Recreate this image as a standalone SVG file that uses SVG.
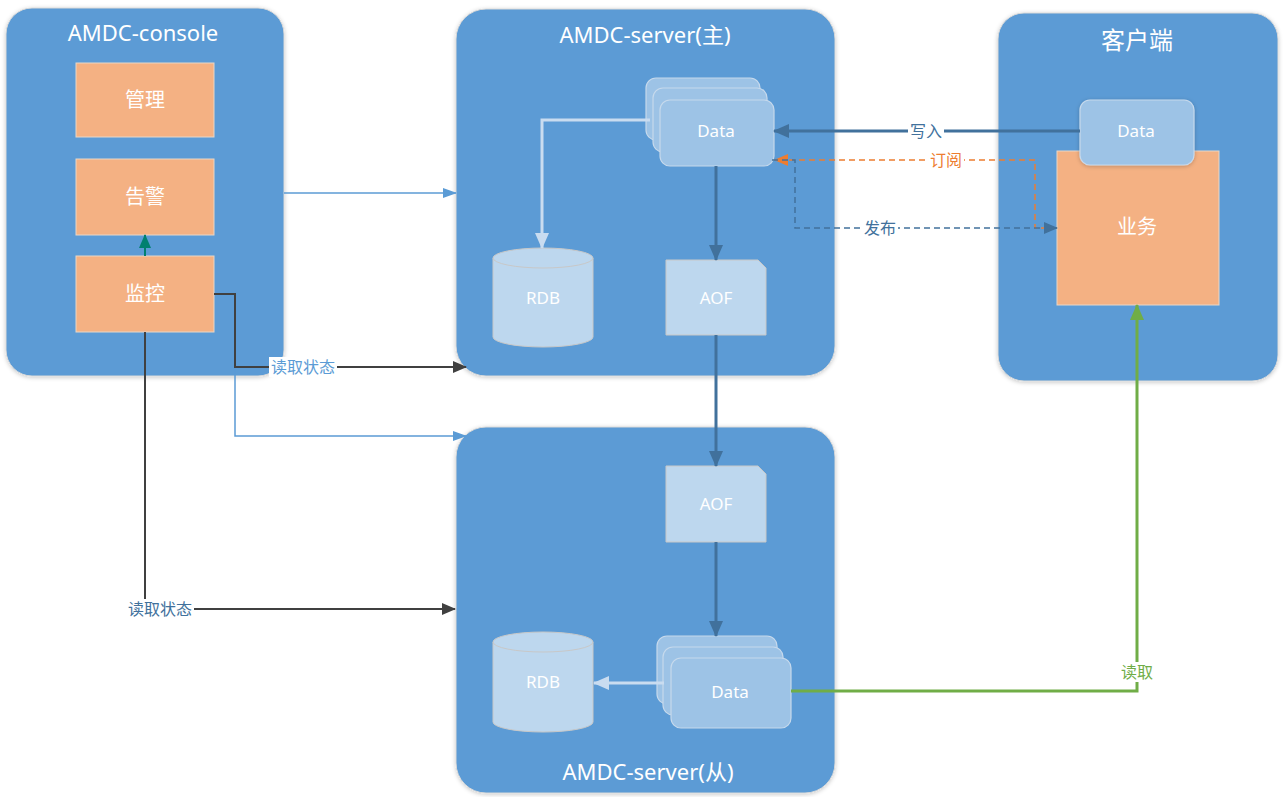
<svg xmlns="http://www.w3.org/2000/svg" width="1284" height="797" viewBox="0 0 1284 797">
  <defs>
    <filter id="shadow" x="-10%" y="-10%" width="120%" height="120%">
      <feDropShadow dx="0" dy="1" stdDeviation="2" flood-color="#000" flood-opacity="0.22"/>
    </filter>
    <marker id="ah-dark" markerUnits="userSpaceOnUse" viewBox="0 0 16 14" refX="15" refY="7" markerWidth="16" markerHeight="14" orient="auto">
      <path d="M0,0 L16,7 L0,14 Z" fill="#41719c"/>
    </marker>
    <marker id="ah-light" markerUnits="userSpaceOnUse" viewBox="0 0 16 14" refX="15" refY="7" markerWidth="16" markerHeight="14" orient="auto">
      <path d="M0,0 L16,7 L0,14 Z" fill="#c9dcf0"/>
    </marker>
    <marker id="ah-orange" markerUnits="userSpaceOnUse" viewBox="0 0 14 12" refX="13" refY="6" markerWidth="14" markerHeight="12" orient="auto">
      <path d="M0,0 L14,6 L0,12 Z" fill="#ed7d31"/>
    </marker>
    <marker id="ah-pub" markerUnits="userSpaceOnUse" viewBox="0 0 14 12" refX="13" refY="6" markerWidth="14" markerHeight="12" orient="auto">
      <path d="M0,0 L14,6 L0,12 Z" fill="#41719c"/>
    </marker>
    <marker id="ah-blue" markerUnits="userSpaceOnUse" viewBox="0 0 14 10" refX="13" refY="5" markerWidth="14" markerHeight="10" orient="auto">
      <path d="M0,0 L14,5 L0,10 Z" fill="#5b9bd5"/>
    </marker>
    <marker id="ah-black" markerUnits="userSpaceOnUse" viewBox="0 0 14 12" refX="13" refY="6" markerWidth="14" markerHeight="12" orient="auto">
      <path d="M0,0 L14,6 L0,12 Z" fill="#404040"/>
    </marker>
    <marker id="ah-green" markerUnits="userSpaceOnUse" viewBox="0 0 16 14" refX="15" refY="7" markerWidth="16" markerHeight="14" orient="auto">
      <path d="M0,0 L16,7 L0,14 Z" fill="#70ad47"/>
    </marker>
    <marker id="ah-teal" markerUnits="userSpaceOnUse" viewBox="0 0 14 12" refX="13" refY="6" markerWidth="14" markerHeight="12" orient="auto">
      <path d="M0,0 L14,6 L0,12 Z" fill="#00806f"/>
    </marker>
  </defs>
  <style>
    text { font-family: "Noto Sans", "Open Sans", "Noto Sans CJK SC", sans-serif; }
    .container { fill: #5b9bd5; stroke: #d9d9d9; stroke-width: 1; filter: url(#shadow); }
    .title { fill: #ffffff; font-size: 22px; text-anchor: middle; }
    .orange { fill: #f4b183; stroke: #e8d7c8; stroke-width: 1; }
    .otext { fill: #ffffff; font-size: 20px; text-anchor: middle; }
    .card { fill: #9dc3e6; stroke: #c6d9ec; stroke-width: 1.2; }
    .store { fill: #bdd7ee; stroke: #c8c8c8; stroke-width: 1; }
    .ctext { fill: #ffffff; font-size: 17px; text-anchor: middle; }
    .lbl { font-size: 16px; text-anchor: middle; }
    .lblbg { fill: #ffffff; }
    .line { fill: none; }
  </style>

  <!-- AMDC-console -->
  <g id="console">
    <rect class="container" x="6" y="8" width="278" height="368" rx="26"/>
    <text class="title" x="143" y="41">AMDC-console</text>
  </g>
  <g id="manage">
    <rect class="orange" x="76" y="63" width="138" height="74"/>
    <text class="otext" x="145" y="107">管理</text>
  </g>
  <g id="alarm">
    <rect class="orange" x="76" y="159" width="138" height="76"/>
    <text class="otext" x="145" y="204">告警</text>
  </g>
  <g id="monitor">
    <rect class="orange" x="76" y="256" width="138" height="76"/>
    <text class="otext" x="145" y="301">监控</text>
  </g>

  <!-- AMDC-server (master) -->
  <g id="server-master">
    <rect class="container" x="456" y="9" width="379" height="367" rx="30"/>
    <text class="title" x="645" y="43">AMDC-server(主)</text>
  </g>
  <g id="master-data">
    <rect class="card" x="646" y="78" width="114" height="62" rx="10"/>
    <rect class="card" x="653" y="88" width="114" height="64" rx="10"/>
    <rect class="card" x="660" y="100" width="114" height="66" rx="10"/>
    <text class="ctext" x="716" y="137">Data</text>
  </g>
  <g id="master-rdb">
    <path class="store" d="M493,258 A50,10 0 0 1 593,258 V337 A50,10 0 0 1 493,337 Z"/>
    <path class="line" d="M493,258 A50,10 0 0 0 593,258" stroke="#c8c8c8" stroke-width="1"/>
    <text class="ctext" x="543" y="304">RDB</text>
  </g>
  <g id="master-aof">
    <path class="store" d="M666,260 H758 L766,268 V335 H666 Z"/>
    <text class="ctext" x="716" y="304">AOF</text>
  </g>

  <!-- AMDC-server (slave) -->
  <g id="server-slave">
    <rect class="container" x="456" y="427" width="379" height="366" rx="30"/>
    <text class="title" x="648" y="780">AMDC-server(从)</text>
  </g>
  <g id="slave-aof">
    <path class="store" d="M666,466 H758 L766,474 V542 H666 Z"/>
    <text class="ctext" x="716" y="510">AOF</text>
  </g>
  <g id="slave-rdb">
    <path class="store" d="M493,642 A50,10 0 0 1 593,642 V722 A50,10 0 0 1 493,722 Z"/>
    <path class="line" d="M493,642 A50,10 0 0 0 593,642" stroke="#c8c8c8" stroke-width="1"/>
    <text class="ctext" x="543" y="688">RDB</text>
  </g>
  <g id="slave-data">
    <rect class="card" x="657" y="636" width="120" height="68" rx="10"/>
    <rect class="card" x="663" y="647" width="120" height="68" rx="10"/>
    <rect class="card" x="671" y="658" width="120" height="70" rx="10"/>
    <text class="ctext" x="730" y="698">Data</text>
  </g>

  <!-- Client -->
  <g id="client">
    <rect class="container" x="998" y="13" width="280" height="368" rx="26"/>
    <text class="title" x="1137" y="49" style="font-size:24px">客户端</text>
  </g>
  <g id="business">
    <rect class="orange" x="1057" y="151" width="162" height="154"/>
    <text class="otext" x="1137" y="234">业务</text>
  </g>
  <g id="client-data">
    <rect class="card" x="1080" y="100" width="114" height="65" rx="10" filter="url(#shadow)"/>
    <text class="ctext" x="1136" y="137">Data</text>
  </g>

  <!-- Connectors -->
  <g id="connectors">
    <!-- console to master -->
    <path class="line" d="M284,193 H456" stroke="#5b9bd5" stroke-width="1.5" marker-end="url(#ah-blue)"/>
    <!-- monitor to alarm -->
    <path class="line" d="M145,256 V235" stroke="#00806f" stroke-width="2" marker-end="url(#ah-teal)"/>
    <!-- monitor to slave (blue) -->
    <path class="line" d="M235,294 V436 H466" stroke="#5b9bd5" stroke-width="1.5" marker-end="url(#ah-blue)"/>
    <!-- monitor reads master state -->
    <path class="line" d="M214,294 H235 V367 H466" stroke="#404040" stroke-width="2" marker-end="url(#ah-black)"/>
    <rect class="lblbg" x="269" y="357" width="68" height="20"/>
    <text class="lbl" x="303" y="373" fill="#5b9bd5">读取状态</text>
    <!-- monitor reads slave state -->
    <path class="line" d="M145,332 V609 H455" stroke="#404040" stroke-width="2" marker-end="url(#ah-black)"/>
    <rect class="lblbg" x="126" y="599" width="68" height="20"/>
    <text class="lbl" x="160" y="615" fill="#41719c">读取状态</text>

    <!-- master data to RDB -->
    <path class="line" d="M650,120 H542 V248" stroke="#c9dcf0" stroke-width="3" marker-end="url(#ah-light)"/>
    <!-- master data to AOF -->
    <path class="line" d="M716,166 V260" stroke="#41719c" stroke-width="3" marker-end="url(#ah-dark)"/>
    <!-- AOF replication -->
    <path class="line" d="M716,335 V466" stroke="#41719c" stroke-width="3" marker-end="url(#ah-dark)"/>
    <!-- slave AOF to data -->
    <path class="line" d="M716,542 V636" stroke="#41719c" stroke-width="3" marker-end="url(#ah-dark)"/>
    <!-- slave data to RDB -->
    <path class="line" d="M664,683 H594" stroke="#c9dcf0" stroke-width="3" marker-end="url(#ah-light)"/>

    <!-- write -->
    <path class="line" d="M1080,131 H774" stroke="#41719c" stroke-width="3" marker-end="url(#ah-dark)"/>
    <rect class="lblbg" x="908" y="122" width="36" height="18"/>
    <text class="lbl" x="926" y="137" fill="#41719c">写入</text>
    <!-- subscribe -->
    <path class="line" d="M1057,228 H1035 V160 H775" stroke="#ed7d31" stroke-width="1.5" stroke-dasharray="6,4" marker-end="url(#ah-orange)"/>
    <rect class="lblbg" x="928" y="151" width="36" height="18"/>
    <text class="lbl" x="946" y="166" fill="#ed7d31">订阅</text>
    <!-- publish -->
    <path class="line" d="M772,160 H795 V228 H1057" stroke="#41719c" stroke-width="1.5" stroke-dasharray="6,4" marker-end="url(#ah-pub)"/>
    <rect class="lblbg" x="862" y="219" width="36" height="18"/>
    <text class="lbl" x="880" y="234" fill="#41719c">发布</text>

    <!-- read -->
    <path class="line" d="M791,691 H1137 V305" stroke="#70ad47" stroke-width="3" marker-end="url(#ah-green)"/>
    <rect class="lblbg" x="1119" y="662" width="36" height="20"/>
    <text class="lbl" x="1137" y="678" fill="#70ad47">读取</text>
  </g>
</svg>
